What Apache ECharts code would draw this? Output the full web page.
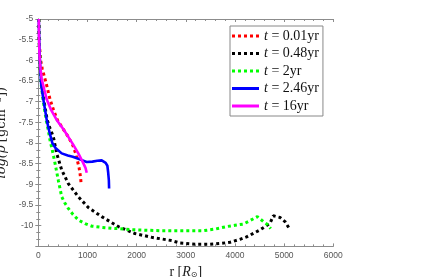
<!DOCTYPE html>
<html><head><meta charset="utf-8">
<script src="https://cdn.jsdelivr.net/npm/echarts@6/dist/echarts.min.js"></script>
<style>html,body{margin:0;padding:0;background:#fff}#c{width:444px;height:277px}</style>
</head><body><div id="c"></div>
<script>
var xTicks = [0, 1000, 2000, 3000, 4000, 5000, 6000];
var yTicks = [-5, -5.5, -6, -6.5, -7, -7.5, -8, -8.5, -9, -9.5, -10];
var seriesNames = ['t = 0.01yr', 't = 0.48yr', 't = 2yr', 't = 2.46yr', 't = 16yr'];
var t001 = [[10,-5],[18,-5.5],[40,-5.95],[80,-6.2],[136,-6.45],[180,-6.65],[238,-6.94],[310,-7.2],[386,-7.44],[500,-7.65],[610,-7.85],[700,-8.05],[760,-8.25],[800,-8.45],[830,-8.6],[850,-8.75],[865,-8.9],[870,-9.0]];
var t048 = [[10,-5],[20,-5.6],[40,-6.2],[65,-6.6],[110,-6.94],[180,-7.44],[240,-7.65],[306,-7.85],[374,-8.25],[476,-8.65],[610,-8.98],[814,-9.3],[1017,-9.56],[1289,-9.78],[1627,-10.02],[1966,-10.19],[2306,-10.28],[2713,-10.36],[2882,-10.42],[3200,-10.45],[3492,-10.45],[3700,-10.43],[3899,-10.4],[4100,-10.33],[4238,-10.27],[4509,-10.1],[4713,-9.94],[4780,-9.76],[4916,-9.8],[5018,-9.9],[5106,-10.07]];
var t2 = [[10,-5],[20,-5.6],[40,-6.2],[60,-6.6],[95,-6.94],[160,-7.44],[203,-7.69],[238,-7.93],[290,-8.2],[340,-8.49],[407,-8.9],[476,-9.3],[540,-9.45],[610,-9.58],[700,-9.72],[814,-9.86],[950,-9.95],[1085,-10.01],[1300,-10.04],[1493,-10.06],[1966,-10.1],[2477,-10.12],[2713,-10.12],[3356,-10.12],[3600,-10.08],[3832,-10.02],[4000,-9.99],[4170,-9.96],[4300,-9.88],[4455,-9.78],[4577,-9.9],[4658,-9.97],[4727,-10.07]];
var t246 = [[10,-5],[20,-5.6],[40,-6.2],[60,-6.6],[102,-6.94],[171,-7.44],[230,-7.75],[285,-8.0],[350,-8.12],[476,-8.25],[600,-8.3],[700,-8.33],[814,-8.38],[900,-8.42],[984,-8.46],[1100,-8.45],[1200,-8.43],[1289,-8.42],[1370,-8.48],[1405,-8.55],[1420,-8.7],[1435,-8.9],[1440,-9.1]];
var t16 = [[10,-5],[15,-5.5],[25,-5.9],[45,-6.2],[69,-6.45],[120,-6.7],[171,-6.94],[260,-7.2],[374,-7.44],[500,-7.65],[610,-7.85],[700,-8.02],[814,-8.25],[900,-8.45],[960,-8.6],[985,-8.72]];

var colors = ['#ff0000', '#000000', '#00ff00', '#0000ff', '#ff00ff'];
var datasets = [t001, t048, t2, t246, t16];
var dotted = [true, true, true, false, false];
var dotIcon = 'path://M0,0h3v3h-3zM6,0h3v3h-3zM12,0h3v3h-3zM18,0h3v3h-3zM24,0h3v3h-3z';
var solidIcon = 'path://M0,0h27v3h-27z';

var chart = echarts.init(document.getElementById('c'), null, {renderer: 'canvas'});
var axisCol = '#8c8c8c';
var labelStyle = {color: '#555', fontSize: 8.5, fontFamily: 'Liberation Sans, Arial, sans-serif'};
function fmtY(v) { return yTicks.indexOf(Math.round(v * 10) / 10) >= 0 ? String(v) : ''; }
function fmtX(v) { return xTicks.indexOf(v) >= 0 ? String(v) : ''; }

var series = datasets.map(function (d, i) {
  return {
    name: seriesNames[i], type: 'line', data: d, symbol: 'none', showSymbol: false,
    xAxisIndex: 0, yAxisIndex: 0, animation: false,
    lineStyle: dotted[i] ? {color: colors[i], width: 3, type: [3, 3], cap: 'butt'} : {color: colors[i], width: 2.6, type: 'solid'},
    itemStyle: {color: colors[i]}
  };
});

var axisCommon = {
  type: 'value', splitLine: {show: false},
  axisLine: {show: true, lineStyle: {color: axisCol, width: 1}},
  axisTick: {show: true, inside: true, length: 3, lineStyle: {color: axisCol}},
  minorSplitLine: {show: false}
};

chart.setOption({
  animation: false,
  backgroundColor: '#fff',
  grid: {left: 38.3, right: 110.7, top: 19, bottom: 30.6, containLabel: false, outerBoundsMode: 'none'},
  xAxis: [
    Object.assign({}, axisCommon, {
      position: 'bottom', min: 0, max: 6000, interval: 1000,
      minorTick: {show: true, splitNumber: 5, length: 2, lineStyle: {color: axisCol}},
      axisLabel: Object.assign({margin: 5, formatter: fmtX}, labelStyle),
      name: '{r|r [}{i|R}{s|⊙}{r|]}', nameLocation: 'middle', nameGap: 15,
      nameTextStyle: {rich: {
        r: {fontFamily: 'Liberation Serif, DejaVu Serif, serif', fontSize: 14, color: '#222'},
        i: {fontFamily: 'Liberation Serif, DejaVu Serif, serif', fontSize: 14, fontStyle: 'italic', color: '#222'},
        s: {fontFamily: 'DejaVu Sans, sans-serif', fontSize: 8, color: '#222', padding: [6, 0, 0, 0]}
      }}
    }),
    Object.assign({}, axisCommon, {
      position: 'top', min: 0, max: 6000, interval: 1000,
      minorTick: {show: true, splitNumber: 5, length: 2, lineStyle: {color: axisCol}},
      axisLabel: {show: false}
    })
  ],
  yAxis: [
    Object.assign({}, axisCommon, {
      position: 'left', min: -10.5, max: -5, interval: 0.5,
      minorTick: {show: true, splitNumber: 3, length: 2, lineStyle: {color: axisCol}},
      axisLabel: Object.assign({margin: 5, formatter: fmtY}, labelStyle),
      name: '{i|log(ρ} {r|[gcm⁻³])}', nameLocation: 'middle', nameGap: 21,
      nameTextStyle: {rich: {
        r: {fontFamily: 'DejaVu Serif, Liberation Serif, serif', fontSize: 13, color: '#222'},
        i: {fontFamily: 'DejaVu Serif, Liberation Serif, serif', fontSize: 13, fontStyle: 'italic', color: '#222'}
      }}
    }),
    Object.assign({}, axisCommon, {
      position: 'right', min: -10.5, max: -5, interval: 0.5,
      minorTick: {show: true, splitNumber: 3, length: 2, lineStyle: {color: axisCol}},
      axisLabel: {show: false}
    })
  ],
  legend: {
    show: true, orient: 'vertical', left: 230, top: 26,
    padding: [3, 4, 3, 2], itemGap: 3.5, itemWidth: 27, itemHeight: 3,
    backgroundColor: '#fff', borderColor: '#888', borderWidth: 1,
    data: seriesNames.map(function (n, i) { return {name: n, icon: dotted[i] ? dotIcon : solidIcon}; }),
    formatter: function (n) { return '{i|t}{n|' + n.slice(1) + '}'; },
    textStyle: {
      fontSize: 14, color: '#111', lineHeight: 14,
      rich: {
        i: {fontFamily: 'Liberation Serif, DejaVu Serif, serif', fontSize: 14, lineHeight: 14, fontStyle: 'italic', color: '#111'},
        n: {fontFamily: 'Liberation Serif, DejaVu Serif, serif', fontSize: 14, lineHeight: 14, color: '#111'}
      }
    }
  },
  series: series
});
</script></body></html>
